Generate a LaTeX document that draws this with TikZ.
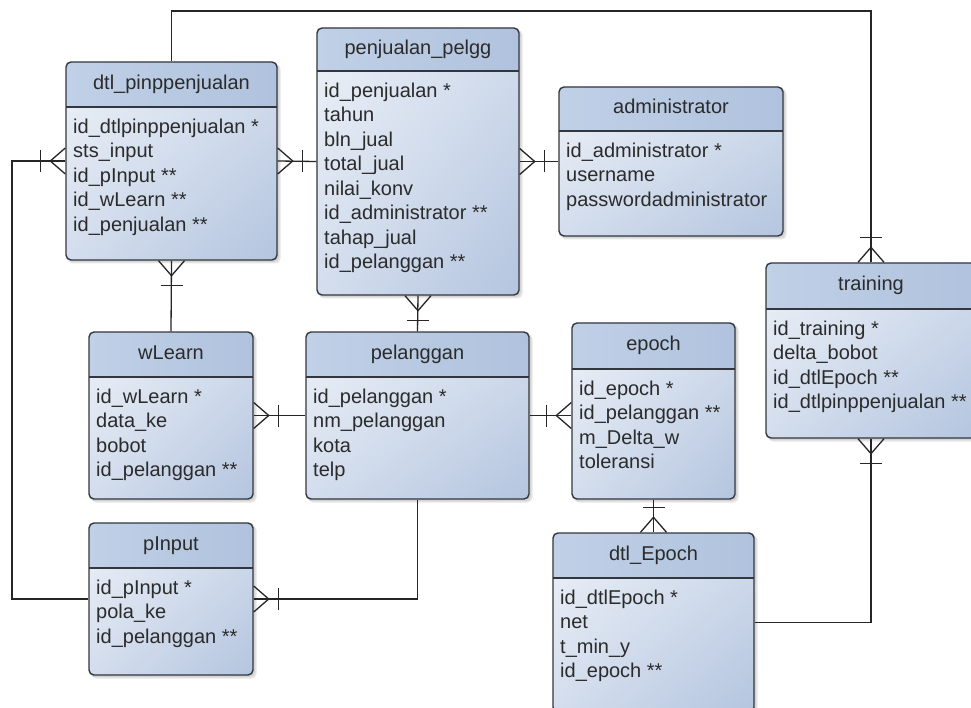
\documentclass[tikz,border=0pt]{standalone}
\usepackage{fontspec}
\setmainfont{Liberation Sans}
\usetikzlibrary{calc,fit,shadings}
\definecolor{hdrA}{HTML}{C0D0E7}
\definecolor{hdrB}{HTML}{B0C2DD}
\definecolor{bodyA}{HTML}{EEF2F8}
\definecolor{bodyM}{HTML}{D3DDED}
\definecolor{bodyC}{HTML}{B4C5DF}
\definecolor{bord}{HTML}{33373D}
\definecolor{lnk}{HTML}{262626}
\definecolor{txt}{HTML}{2B2B2B}
\tikzset{
  boxframe/.style={draw=bord, line width=1.4pt, rounded corners=5pt, inner sep=0pt},
  hline/.style={draw=bord, line width=1.4pt},
  ttl/.style={text=txt, font=\fontsize{20}{24}\selectfont, anchor=mid, inner sep=0pt},
  rowtxt/.style={text=txt, font=\fontsize{20}{24}\selectfont, anchor=mid west, inner sep=0pt},
  conn/.style={draw=lnk, line width=1.3pt},
}
% name, x1, y1, x2, y2, yh, title, rows
\newcommand\erbox[8]{%
  \fill[black, opacity=.10, rounded corners=5pt] (#2+2,#3+2) rectangle (#4+3.5,#5+3.5);
  \fill[black, opacity=.08, rounded corners=5pt] (#2+1,#3+1) rectangle (#4+2,#5+2);
  \shade[upper left=bodyA, upper right=bodyM, lower left=bodyM, lower right=bodyC, rounded corners=5pt] (#2,#3) rectangle (#4,#5);
  \begin{scope}
    \clip[rounded corners=5pt] (#2,#3) rectangle (#4,#5);
    \shade[left color=hdrA, right color=hdrB] (#2,#3) rectangle (#4,#6);
  \end{scope}
  \node[boxframe, fit={(#2,#3) (#4,#5)}] (#1) {};
  \draw[hline] (#2,#6) -- (#4,#6);
  \node[ttl] (#1-t) at ({(#2+#4)/2},{(#3+#6)/2+2}) {#7};
  \foreach \r [count=\i] in {#8}
    \node[rowtxt] (#1-\i) at ({#2+7},{#6+23.5+(\i-1)*24.5}) {\r};
}
% crow's foot + bar at point #1, direction away from box (#2,#3)
\newcommand\relmark[3]{%
  \draw[conn] ($#1+({13*(#3)},{-13*(#2)})$) -- ($#1+({15*(#2)},{15*(#3)})$) -- ($#1+({-13*(#3)},{13*(#2)})$);
  \draw[conn] ($#1+({25*(#2)-11*(#3)},{25*(#3)+11*(#2)})$) -- ($#1+({25*(#2)+11*(#3)},{25*(#3)-11*(#2)})$);
}
\begin{document}
\begin{tikzpicture}[x=1pt,y=-1pt]
\useasboundingbox (0,0) rectangle (971,708);
\fill[white] (0,0) rectangle (971,708);
\clip (0,0) rectangle (971,708);

\coordinate (leftx) at (12,0);
\coordinate (topy) at (0,11);

\erbox{dtl}{66}{62}{277}{260}{107}{dtl\_pinppenjualan}{id\_dtlpinppenjualan *, sts\_input, id\_pInput **, id\_wLearn **, id\_penjualan **}
\erbox{penj}{317}{28}{519}{295}{71}{penjualan\_pelgg}{id\_penjualan *, tahun, bln\_jual, total\_jual, nilai\_konv, id\_administrator **, tahap\_jual, id\_pelanggan **}
\erbox{admin}{559}{87}{783}{236}{131}{administrator}{id\_administrator *, username, passwordadministrator}
\erbox{train}{766}{263}{976}{438}{309}{training}{id\_training *, delta\_bobot, id\_dtlEpoch **, id\_dtlpinppenjualan **}
\erbox{wlearn}{89}{332}{253}{499}{377}{wLearn}{id\_wLearn *, data\_ke, bobot, id\_pelanggan **}
\erbox{pinput}{89}{523}{253}{675}{568}{pInput}{id\_pInput *, pola\_ke, id\_pelanggan **}
\erbox{pel}{306}{332}{529}{499}{377}{pelanggan}{id\_pelanggan *, nm\_pelanggan, kota, telp}
\erbox{epoch}{572}{323}{735}{499}{369}{epoch}{id\_epoch *, id\_pelanggan **, m\_Delta\_w, toleransi}
\erbox{dtle}{553}{533}{754}{712}{578}{dtl\_Epoch}{id\_dtlEpoch *, net, t\_min\_y, id\_epoch **}

\coordinate (topR) at (train.north |- topy);
\coordinate (epW) at (pel.east -| epoch.west);

\draw[conn] (dtl.west) -- (dtl.west -| leftx) |- (pinput.west);
\draw[conn] (dtl.east) -- (penj.west);
\draw[conn] (penj.east) -- (admin.west);
\draw[conn] (penj.south) -- (pel.north);
\draw[conn] (dtl.south) -- (wlearn.north);
\draw[conn] (wlearn.east) -- (wlearn.east -| pel.west);
\draw[conn] (pinput.east) -| (pel.south);
\draw[conn] (pel.east) -- (epW);
\draw[conn] (epoch.south) -- (dtle.north);
\draw[conn] (dtle.east) -| (train.south);
\draw[conn] (dtl.north) |- (topR) -- (train.north);

\relmark{(dtl.west)}{-1}{0}
\relmark{(dtl.east)}{1}{0}
\relmark{(penj.east)}{1}{0}
\relmark{(penj.south)}{0}{1}
\relmark{(dtl.south)}{0}{1}
\relmark{(wlearn.east)}{1}{0}
\relmark{(pinput.east)}{1}{0}
\relmark{(epW)}{-1}{0}
\relmark{(dtle.north)}{0}{-1}
\relmark{(train.south)}{0}{1}
\relmark{(train.north)}{0}{-1}
\end{tikzpicture}
\end{document}
